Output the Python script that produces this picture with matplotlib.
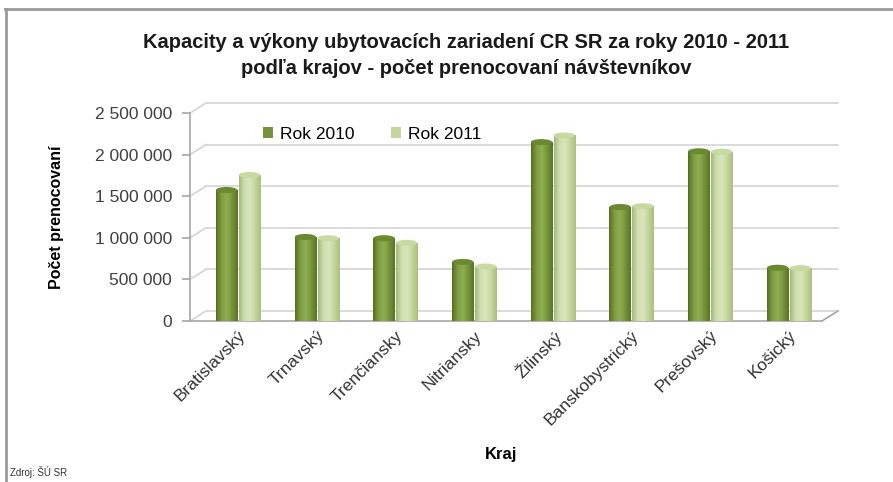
import numpy as np
import matplotlib
matplotlib.use('Agg')
import matplotlib.pyplot as plt
from matplotlib.patches import Ellipse
from matplotlib.colors import LinearSegmentedColormap
from matplotlib.lines import Line2D

# data
kraje = ['Bratislavský', 'Trnavský', 'Trenčiansky', 'Nitriansky', 'Žilinský',
         'Banskobystrický', 'Prešovský', 'Košický']
rok_2010 = [1575000, 1010000, 995000, 710000, 2150000, 1370000, 2040000, 640000]
rok_2011 = [1755000, 995000, 940000, 655000, 2230000, 1380000, 2035000, 635000]
series_names = ['Rok 2010', 'Rok 2011']
y_ticks = [0, 500000, 1000000, 1500000, 2000000, 2500000]

plt.rcParams['font.family'] = ['Liberation Sans', 'DejaVu Sans']

W, H = 893, 482
fig = plt.figure(figsize=(W / 100, H / 100), dpi=100)

# plot area in pixels
L, R = 190, 822
Y0, YT = 321, 113
xmin, xmax = -0.61, 7.42
ymax = 2500000
ax = fig.add_axes([L / W, 1 - Y0 / H, (R - L) / W, (Y0 - YT) / H])
ax.set_xlim(xmin, xmax)
ax.set_ylim(0, ymax)

ppx = (R - L) / (xmax - xmin)
ppy = (Y0 - YT) / ymax
ddx = 16 / ppx
ddy = 10 / ppy

# back wall grid + depth connectors
grid_col = '#d4d4d4'
for v in y_ticks:
    ax.plot([xmin + ddx, xmax + ddx], [v + ddy, v + ddy], color=grid_col, lw=1.2, clip_on=False, zorder=0)
    ax.plot([xmin, xmin + ddx], [v, v + ddy], color=grid_col, lw=1.2, clip_on=False, zorder=0)
# floor
ax.plot([xmin, xmax], [0, 0], color='#a6a6a6', lw=1.2, clip_on=False, zorder=1)
ax.plot([xmax, xmax + ddx], [0, ddy], color='#a6a6a6', lw=1.2, clip_on=False, zorder=1)

x = np.arange(len(kraje))
bw = 0.27
off = 0.145
c2010 = ['#55701f', '#7f9d43', '#8fae52', '#76933a', '#5a7424']
c2011 = ['#a3b97a', '#cfdfae', '#d8e6bd', '#c3d69b', '#aabf80']
top2010 = '#6a8a30'
top2011 = '#c8da9f'
ell_h = 6 / ppy

grad = np.linspace(0, 1, 64).reshape(1, -1)
for vals, xs, cols, topc, name in [(rok_2010, x - off, c2010, top2010, series_names[0]),
                                   (rok_2011, x + off, c2011, top2011, series_names[1])]:
    cmap = LinearSegmentedColormap.from_list(name, cols)
    bars = ax.bar(xs, vals, width=bw, color=cols[3], label=name, zorder=2)
    for b in bars:
        x0, y0b = b.get_x(), b.get_y()
        w, h = b.get_width(), b.get_height()
        im = ax.imshow(grad, extent=[x0, x0 + w, y0b, y0b + h], aspect='auto',
                       cmap=cmap, zorder=3, interpolation='bilinear')
        im.set_clip_path(b)
        ax.add_patch(Ellipse((x0 + w / 2, h), w, ell_h, color=topc, zorder=4, lw=0))
        ax.add_patch(Ellipse((x0 + w / 2, 0), w, ell_h, color=cols[2], zorder=1.5, lw=0))

ax.set_xlim(xmin, xmax)
ax.set_ylim(0, ymax)

for s in ['top', 'right', 'bottom']:
    ax.spines[s].set_visible(False)
ax.spines['left'].set_color('#a6a6a6')
ax.spines['left'].set_linewidth(1.2)
ax.set_yticks(y_ticks)
ax.set_yticklabels(['{:,}'.format(v).replace(',', ' ') for v in y_ticks], fontsize=12.5, color='#404040')
ax.tick_params(axis='y', length=6, color='#a6a6a6', width=1.2, pad=7)
ax.set_xticks(x)
ax.set_xticklabels(kraje, rotation=45, ha='right', rotation_mode='anchor', fontsize=12.5, color='#333333')
ax.tick_params(axis='x', length=0, pad=5)
for lbl in ax.get_xticklabels():
    lbl.set_x(lbl.get_position()[0] - 0.08)

ax.set_ylabel('Počet prenocovaní', fontsize=11.5, fontweight='bold')
ax.yaxis.set_label_coords(-0.2, 0.5)

leg = ax.legend(loc='upper left', bbox_to_anchor=(0.09, 1.01), ncol=2, frameon=False,
                fontsize=12.5, handlelength=0.6, handleheight=0.6, columnspacing=2.1,
                handletextpad=0.4)

fig.text(466 / W, 1 - 42 / H, 'Kapacity a výkony ubytovacích zariadení CR SR za roky 2010 - 2011',
         ha='center', va='center', fontsize=14.5, fontweight='bold', color='#1a1a1a')
fig.text(466 / W, 1 - 68 / H, 'podľa krajov - počet prenocovaní návštevníkov',
         ha='center', va='center', fontsize=14.5, fontweight='bold', color='#1a1a1a')
fig.text(501 / W, 1 - 455 / H, 'Kraj', ha='center', va='center', fontsize=12, fontweight='bold')
fig.text(10 / W, 1 - 472 / H, 'Zdroj: ŠÚ SR', ha='left', va='center', fontsize=7, color='#333333')

# outer chart frame (top and left edges visible)
fig.add_artist(Line2D([5 / W, 1], [1 - 9 / H, 1 - 9 / H], color='#9a9a9a', lw=2))
fig.add_artist(Line2D([6 / W, 6 / W], [1 - 9 / H, 0], color='#9a9a9a', lw=2))

fig.savefig('out.png', dpi=100)
